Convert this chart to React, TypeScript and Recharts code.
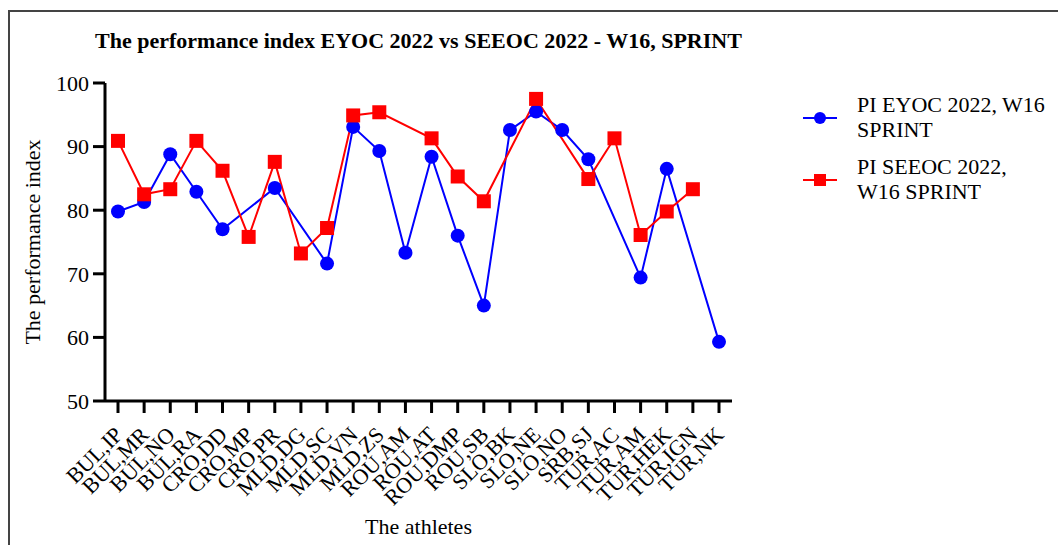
import { LineChart, Line, XAxis, YAxis, Label } from "recharts";

const athletes = [
  "BUL,IP", "BUL,MR", "BUL,NO", "BUL,RA", "CRO,DD", "CRO,MP", "CRO,PR", "MLD,DG",
  "MLD,SC", "MLD,VN", "MLD,ZS", "ROU,AM", "ROU,AT", "ROU,DMP", "ROU,SB", "SLO,BK",
  "SLO,NE", "SLO,NO", "SRB,SJ", "TUR,AC", "TUR,AM", "TUR,HEK", "TUR,IGN", "TUR,NK",
];

const piEyoc = [
  79.8, 81.3, 88.8, 82.9, 77.0, null, 83.5, null, 71.6, 93.1, 89.3, 73.3,
  88.4, 76.0, 65.0, 92.6, 95.5, 92.6, 88.0, null, 69.4, 86.5, null, 59.3,
];

const piSeeoc = [
  90.9, 82.5, 83.3, 90.9, 86.2, 75.8, 87.6, 73.2, 77.2, 94.9, 95.4, null,
  91.3, 85.3, 81.4, null, 97.5, null, 84.9, 91.3, 76.1, 79.8, 83.3, null,
];

const yTicks = [50, 60, 70, 80, 90, 100];

const seriesNames = ["PI EYOC 2022, W16 SPRINT", "PI SEEOC 2022, W16 SPRINT"];

const data = athletes.map((name, i) => ({
  name,
  eyoc: piEyoc[i],
  seeoc: piSeeoc[i],
}));

const FONT = "'Liberation Serif', 'Times New Roman', serif";

const SquareDot = (props: any) => {
  const { cx, cy, value } = props;
  if (cx == null || cy == null || value == null) return null;
  return <rect x={cx - 7} y={cy - 7} width={14} height={14} fill="#ff0000" />;
};

const RoundDot = (props: any) => {
  const { cx, cy, value } = props;
  if (cx == null || cy == null || value == null) return null;
  return <circle cx={cx} cy={cy} r={7} fill="#0000ff" />;
};

const AthleteTick = ({ x, y, payload }: any) => {
  const ax = x + 6;
  const ay = y + 21;
  return (
    <text
      x={ax}
      y={ay}
      transform={`rotate(-45, ${ax}, ${ay})`}
      textAnchor="end"
      fontFamily={FONT}
      fontSize={22}
      fill="#000"
    >
      {payload.value}
    </text>
  );
};

const legendKeys = [
  { name: seriesNames[0], color: "#0000ff", shape: "circle" },
  { name: seriesNames[1], color: "#ff0000", shape: "square" },
];

// legend drawn beside the chart so it takes no room from the plot
const LegendBox = () => (
  <div style={{ fontFamily: FONT, fontSize: 22, lineHeight: "24.5px", color: "#000" }}>
    {legendKeys.map((k) => (
      <div key={k.name} style={{ display: "flex", alignItems: "center", marginBottom: 13 }}>
        <svg width={57} height={20} style={{ flexShrink: 0 }}>
          <line x1={3} y1={10} x2={37} y2={10} stroke={k.color} strokeWidth={2} />
          {k.shape === "circle" ? (
            <circle cx={20} cy={10} r={6} fill={k.color} />
          ) : (
            <rect x={14} y={4} width={12} height={12} fill={k.color} />
          )}
        </svg>
        <div style={{ width: 194 }}>{k.name}</div>
      </div>
    ))}
  </div>
);

export default function App() {
  return (
    <div style={{ position: "fixed", left: 0, top: 0, width: 1058, height: 545, background: "#fff" }}>
      <div style={{ position: "absolute", left: 8, top: 10, width: 1050, height: 2, background: "#444" }} />
      <div style={{ position: "absolute", left: 8, top: 10, width: 2, height: 535, background: "#444" }} />
      <div
        style={{
          position: "absolute",
          left: 0,
          width: 837,
          top: 28,
          textAlign: "center",
          fontFamily: FONT,
          fontWeight: "bold",
          fontSize: 22,
          whiteSpace: "nowrap",
        }}
      >
        The performance index EYOC 2022 vs SEEOC 2022 - W16, SPRINT
      </div>
      <div style={{ position: "absolute", left: 0, top: 0 }}>
        <LineChart
          width={1058}
          height={545}
          data={data}
          margin={{ top: 83, right: 326, bottom: 0, left: 0 }}
        >
          <XAxis
            dataKey="name"
            interval={0}
            height={144}
            padding={{ left: 13, right: 13 }}
            tickSize={12}
            tickMargin={2}
            axisLine={{ stroke: "#000", strokeWidth: 3 }}
            tickLine={{ stroke: "#000", strokeWidth: 3 }}
            tick={<AthleteTick />}
          >
            <Label
              content={() => (
                <text x={418.5} y={534} textAnchor="middle" fontFamily={FONT} fontSize={22} fill="#000">
                  The athletes
                </text>
              )}
            />
          </XAxis>
          <YAxis
            domain={[50, 100]}
            ticks={yTicks}
            width={105}
            tickSize={12}
            tickMargin={4}
            axisLine={{ stroke: "#000", strokeWidth: 3 }}
            tickLine={{ stroke: "#000", strokeWidth: 3 }}
            tick={{ fill: "#000", fontFamily: FONT, fontSize: 22 }}
          >
            <Label
              content={() => (
                <text
                  x={40}
                  y={242}
                  transform="rotate(-90, 40, 242)"
                  textAnchor="middle"
                  fontFamily={FONT}
                  fontSize={22}
                  fill="#000"
                >
                  The performance index
                </text>
              )}
            />
          </YAxis>
          <Line
            type="linear"
            dataKey="eyoc"
            name={seriesNames[0]}
            stroke="#0000ff"
            strokeWidth={2}
            connectNulls
            dot={<RoundDot />}
            activeDot={false}
            isAnimationActive={false}
          />
          <Line
            type="linear"
            dataKey="seeoc"
            name={seriesNames[1]}
            stroke="#ff0000"
            strokeWidth={2}
            connectNulls
            dot={<SquareDot />}
            activeDot={false}
            isAnimationActive={false}
          />
        </LineChart>
      </div>
      <div style={{ position: "absolute", left: 800, top: 93, width: 255 }}>
        <LegendBox />
      </div>
    </div>
  );
}
